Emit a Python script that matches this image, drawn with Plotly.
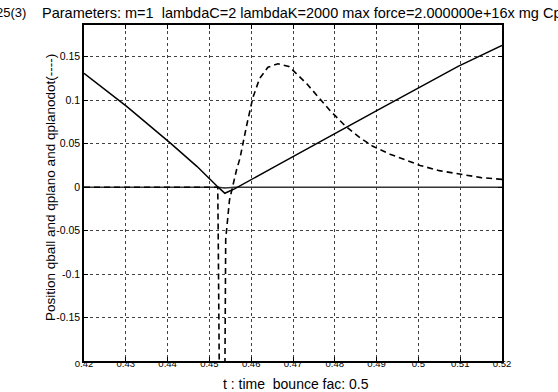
import plotly.graph_objects as go

# ---- data ----
t_ball = [0.420, 0.4302, 0.4406, 0.4470, 0.4521, 0.4530, 0.4537, 0.4546, 0.4560,
          0.4650, 0.4750, 0.4824, 0.4908, 0.5000, 0.5095, 0.5200]
q_ball = [0.131, 0.093, 0.051, 0.024, 0.000, -0.004, -0.007, -0.005, -0.002,
          0.022, 0.049, 0.068, 0.090, 0.114, 0.139, 0.163]

t_plano = [0.420, 0.4521, 0.4537, 0.4560, 0.520]
q_plano = [0.000, 0.000, -0.001, 0.000, 0.000]

t_dot = [0.420, 0.4520, 0.4521, 0.4524, 0.4530, 0.4536, 0.4539, 0.4548, 0.4556,
         0.4565, 0.4573, 0.4580, 0.4590, 0.4604, 0.4620, 0.4640, 0.4664, 0.4690,
         0.4733, 0.4789, 0.4824, 0.4860, 0.4891, 0.4932, 0.4970, 0.5004, 0.5050,
         0.5107, 0.5150, 0.5200]
q_dot = [0.000, 0.000, -0.05, -0.30, -0.60, -0.30, -0.06, -0.015, 0.002,
         0.020, 0.033, 0.050, 0.073, 0.103, 0.125, 0.138, 0.142, 0.139,
         0.119, 0.088, 0.071, 0.057, 0.047, 0.038, 0.031, 0.025, 0.019,
         0.014, 0.011, 0.009]

x_ticks = [0.42, 0.43, 0.44, 0.45, 0.46, 0.47, 0.48, 0.49, 0.50, 0.51, 0.52]
x_ticklabels = ["0.42", "0.43", "0.44", "0.45", "0.46", "0.47", "0.48", "0.49", "0.5", "0.51", "0.52"]
y_ticks = [-0.15, -0.1, -0.05, 0, 0.05, 0.1, 0.15]
y_ticklabels = ["-0.15", "-0.1", "-0.05", "0", "0.05", "0.1", "0.15"]

title_head = "25(3)"
title_body = ("Parameters: m=1\u00a0\u00a0lambdaC=2 lambdaK=2000 max "
              "force=2.000000e+16x mg Cpl")
xlabel = "t : time\u00a0\u00a0bounce fac: 0.5"
ylabel = "Position qball and qplano and qplanodot(----)"

W, H = 558, 392
ML, MR, MT, MB = 84, 56, 25, 31
PW, PH = W - ML - MR, H - MT - MB
font = "Liberation Sans, Arial, sans-serif"


def px(xp):
    return (xp - ML) / PW


def py(yp):
    return ((H - MB) - yp) / PH


fig = go.Figure()
fig.add_trace(go.Scatter(x=t_plano, y=q_plano, mode="lines",
                         line=dict(color="#333333", width=1.5), showlegend=False))
fig.add_trace(go.Scatter(x=t_dot, y=q_dot, mode="lines",
                         line=dict(color="black", width=1.6, dash="6px,4px"), showlegend=False))
fig.add_trace(go.Scatter(x=t_ball, y=q_ball, mode="lines",
                         line=dict(color="black", width=1.5), showlegend=False))

axis_common = dict(showline=True, linecolor="black", linewidth=1.5, mirror="ticks",
                   ticks="inside", ticklen=4, tickcolor="black", tickwidth=1,
                   showgrid=True, gridcolor="rgba(0,0,0,0.75)", griddash="dot", gridwidth=1,
                   zeroline=False)

fig.update_xaxes(range=[0.42, 0.52], tickvals=x_ticks, ticktext=x_ticklabels,
                 tickfont=dict(family=font, size=9.5, color="black"),
                 ticklabelstandoff=-7, **axis_common)
fig.update_yaxes(range=[-0.2, 0.1866], tickvals=y_ticks, ticktext=y_ticklabels,
                 tickfont=dict(family=font, size=10.5, color="black"),
                 **axis_common)

fig.add_annotation(text=title_head, xref="paper", yref="paper", x=px(28), y=py(12.5),
                   showarrow=False, xanchor="right", yanchor="middle",
                   font=dict(family=font, size=13, color="black"))
fig.add_annotation(text=title_body, xref="paper", yref="paper", x=px(40), y=py(12.5),
                   showarrow=False, xanchor="left", yanchor="middle",
                   font=dict(family=font, size=14.5, color="black"))
fig.add_annotation(text=xlabel, xref="paper", yref="paper",
                   x=px(296), y=py(384),
                   showarrow=False, xanchor="center", yanchor="middle",
                   font=dict(family=font, size=14, color="black"))
fig.add_annotation(text=ylabel, xref="paper", yref="paper",
                   x=px(50), y=py(188),
                   showarrow=False, xanchor="center", yanchor="middle", textangle=-90,
                   font=dict(family=font, size=13.5, color="black"))

fig.update_layout(width=W, height=H, margin=dict(l=ML, r=MR, t=MT, b=MB, pad=0),
                  paper_bgcolor="white", plot_bgcolor="white", showlegend=False)

fig.write_html("out.html")
